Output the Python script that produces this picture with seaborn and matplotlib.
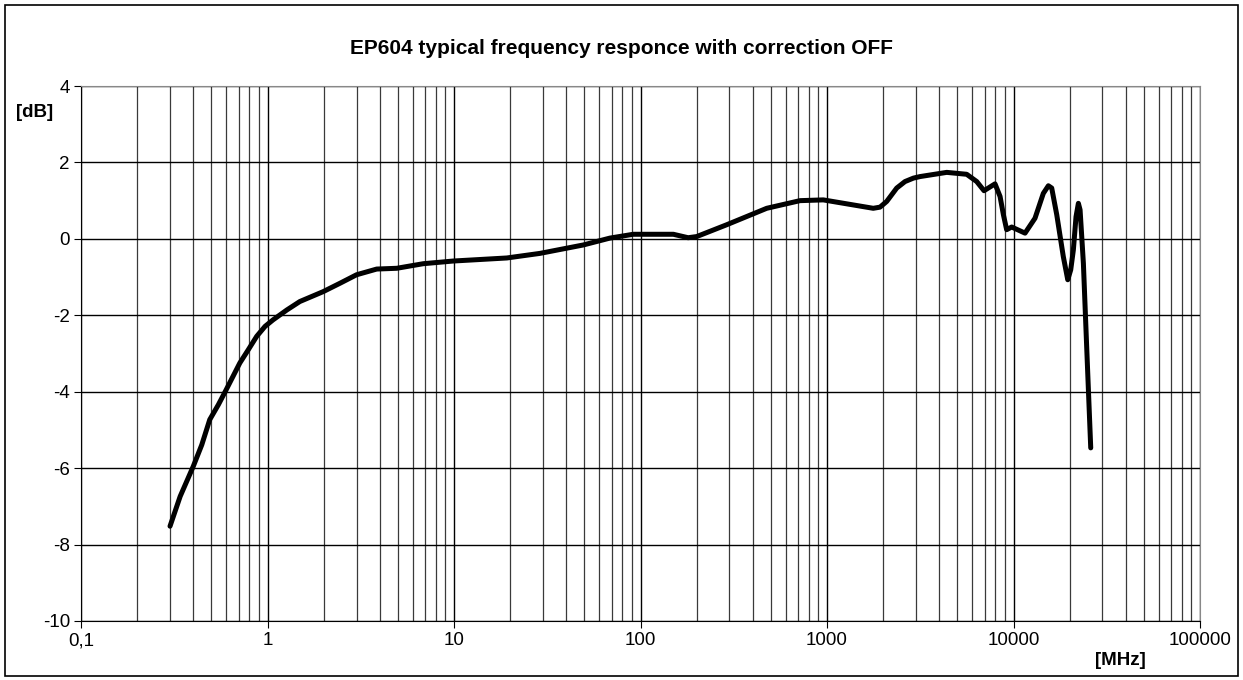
import numpy as np
import pandas as pd
import matplotlib
matplotlib.use("Agg")
import matplotlib.pyplot as plt
import matplotlib.ticker as mticker
from matplotlib.patches import Rectangle
import seaborn as sns

# Frequency response (MHz, dB)
freq_mhz = [0.3, 0.34, 0.4, 0.444, 0.49, 0.545, 0.60, 0.71, 0.789, 0.875, 0.97,
            1.07, 1.27, 1.49, 1.99, 2.45, 3.0, 3.85, 4.93, 6.84, 9.9, 19.2, 28.9,
            49.3, 68.5, 91.4, 150, 180, 200, 290, 475, 716, 955, 1770, 1924,
            2090, 2365, 2620, 2906, 3152, 4385, 5610, 6350, 6950, 7960, 8470,
            8830, 9190, 9780, 11530, 13040, 14450, 15380, 16030, 17060, 18490,
            19540, 20270, 20940, 21640, 22280, 22750, 23700, 24680, 25950]
gain_db = [-7.52, -6.74, -5.95, -5.39, -4.73, -4.34, -3.95, -3.25, -2.90, -2.55,
           -2.29, -2.12, -1.86, -1.64, -1.38, -1.16, -0.94, -0.79, -0.77, -0.65,
           -0.58, -0.50, -0.38, -0.16, 0.02, 0.12, 0.12, 0.03, 0.06, 0.37, 0.80,
           1.00, 1.02, 0.80, 0.83, 0.98, 1.33, 1.50, 1.59, 1.63, 1.74, 1.69,
           1.50, 1.26, 1.44, 1.11, 0.63, 0.24, 0.31, 0.15, 0.54, 1.19, 1.39,
           1.33, 0.63, -0.46, -1.07, -0.81, -0.29, 0.58, 0.93, 0.76, -0.64,
           -2.82, -5.47]

x_ticks = [0.1, 1, 10, 100, 1000, 10000, 100000]
x_tick_labels = ["0,1", "1", "10", "100", "1000", "10000", "100000"]
y_ticks = [-10, -8, -6, -4, -2, 0, 2, 4]

df = pd.DataFrame({"freq": freq_mhz, "gain": gain_db})

sns.set_theme(style="white")
plt.rcParams["font.family"] = ["Liberation Sans", "DejaVu Sans"]
plt.rcParams["text.color"] = "black"
plt.rcParams["xtick.color"] = "black"
plt.rcParams["ytick.color"] = "black"

fig = plt.figure(figsize=(12.43, 6.8), dpi=100)
ax = fig.add_axes([0.0652, 0.0868, 0.9002, 0.7867])

sns.lineplot(data=df, x="freq", y="gain", ax=ax, color="black", linewidth=3.6,
             sort=False, solid_capstyle="round", solid_joinstyle="round")

ax.set_xscale("log")
ax.set_xlim(0.1, 100000)
ax.set_ylim(-10, 4)
ax.set_xticks(x_ticks)
ax.xaxis.set_major_formatter(mticker.FixedFormatter(x_tick_labels))
ax.xaxis.set_minor_locator(mticker.LogLocator(base=10, subs=np.arange(2, 10)))
ax.xaxis.set_minor_formatter(mticker.NullFormatter())
ax.set_yticks(y_ticks)
ax.set_yticklabels([str(v) for v in y_ticks])

ax.grid(which="major", axis="both", color="black", linewidth=1.0)
ax.grid(which="minor", axis="x", color="#3a3a3a", linewidth=0.9)
ax.tick_params(axis="both", which="major", labelsize=13.5, length=5, width=0.8,
               color="black", labelcolor="black", direction="out", pad=3,
               bottom=True, left=True)
ax.tick_params(axis="x", which="minor", length=0)

for side, sp in ax.spines.items():
    sp.set_color("#888888")
    sp.set_linewidth(0.8)
ax.spines["left"].set_color("black")
ax.spines["bottom"].set_color("black")

ax.set_xlabel("")
ax.set_ylabel("")

fig.text(0.4996, 0.929, "EP604 typical frequency responce with correction OFF",
         ha="center", va="center", fontsize=15, fontweight="bold", color="black")
fig.text(0.028, 0.835, "[dB]", ha="center", va="center", fontsize=13.5,
         fontweight="bold", color="black")
fig.text(0.901, 0.029, "[MHz]", ha="center", va="center", fontsize=13.5,
         fontweight="bold", color="black")

fig.patches.append(Rectangle((0.004, 0.006), 0.992, 0.987, transform=fig.transFigure,
                             fill=False, edgecolor="black", linewidth=1.2))

fig.savefig("out.png", dpi=100)
